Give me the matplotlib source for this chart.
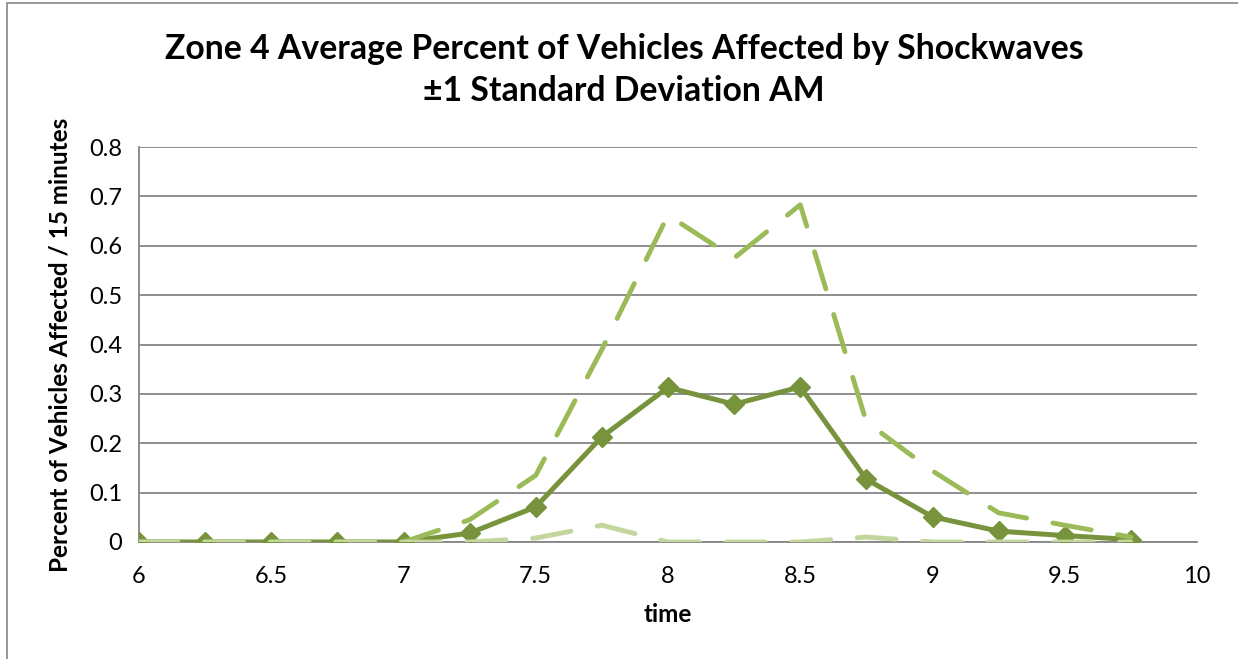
import matplotlib.pyplot as plt
from matplotlib.patches import Rectangle

time = [6.0, 6.25, 6.5, 6.75, 7.0, 7.25, 7.5, 7.75, 8.0, 8.25, 8.5, 8.75, 9.0, 9.25, 9.5, 9.75]
mean_pct = [0, 0, 0, 0, 0, 0.018, 0.071, 0.213, 0.313, 0.279, 0.314, 0.127, 0.051, 0.022, 0.013, 0.005]
plus_sd = [0, 0, 0, 0, 0, 0.045, 0.135, 0.39, 0.662, 0.575, 0.683, 0.243, 0.144, 0.059, 0.034, 0.01]
minus_sd = [0, 0, 0, 0, 0, 0, 0.008, 0.034, 0, 0, 0, 0.01, 0, 0, 0, 0]

title = "Zone 4 Average Percent of Vehicles Affected by Shockwaves\n\u00b11 Standard Deviation AM"
font = ["Lato", "DejaVu Sans"]


def main():
    plt.rcParams['font.family'] = font
    fig = plt.figure(figsize=(12.38, 6.59), dpi=100)
    ax = fig.add_axes([139 / 1238, 117 / 659, 1058 / 1238, 395 / 659])

    # outer chart border
    fig.patches.append(Rectangle((7 / 1238, -0.1), 1.2, (656 / 659) + 0.1,
                                 transform=fig.transFigure, fill=False,
                                 edgecolor='#868686', linewidth=1.2))

    ax.plot(time, mean_pct, color='#77933C', lw=3.6, marker='D', markersize=10.5,
            solid_joinstyle='miter', zorder=3)
    ax.plot(time, plus_sd, color='#9BBB59', lw=3.5, dashes=(8, 5.5),
            dash_capstyle='round', zorder=4)
    ax.plot(time, minus_sd, color='#C3D69B', lw=3.5, dashes=(8, 5.5),
            dash_capstyle='round', zorder=5)

    ax.set_xlim(6, 10)
    ax.set_ylim(0, 0.8)
    ax.set_xticks([6, 6.5, 7, 7.5, 8, 8.5, 9, 9.5, 10])
    ax.set_xticklabels(['6', '6.5', '7', '7.5', '8', '8.5', '9', '9.5', '10'])
    ax.set_yticks([0, 0.1, 0.2, 0.3, 0.4, 0.5, 0.6, 0.7, 0.8])
    ax.set_yticklabels(['0', '0.1', '0.2', '0.3', '0.4', '0.5', '0.6', '0.7', '0.8'])
    ax.tick_params(axis='y', length=0, labelsize=17, pad=12)
    ax.tick_params(axis='x', length=0, labelsize=17, pad=17)
    ax.grid(axis='y', color='#868686', lw=1.3)
    ax.set_axisbelow(True)
    for side in ['top', 'right']:
        ax.spines[side].set_visible(False)
    for side in ['left', 'bottom']:
        ax.spines[side].set_color('#868686')
        ax.spines[side].set_linewidth(1.3)

    ax.set_xlabel("time", fontsize=17.5, fontweight='bold', labelpad=12)
    ax.set_ylabel("Percent of Vehicles Affected / 15 minutes", fontsize=17.5,
                  fontweight='bold', labelpad=13)
    fig.text(624 / 1238, 1 - 70 / 659, title, ha='center', va='center',
             fontsize=24.3, fontweight='bold', linespacing=1.35)

    fig.savefig("out.png", dpi=100)


if __name__ == "__main__":
    main()
